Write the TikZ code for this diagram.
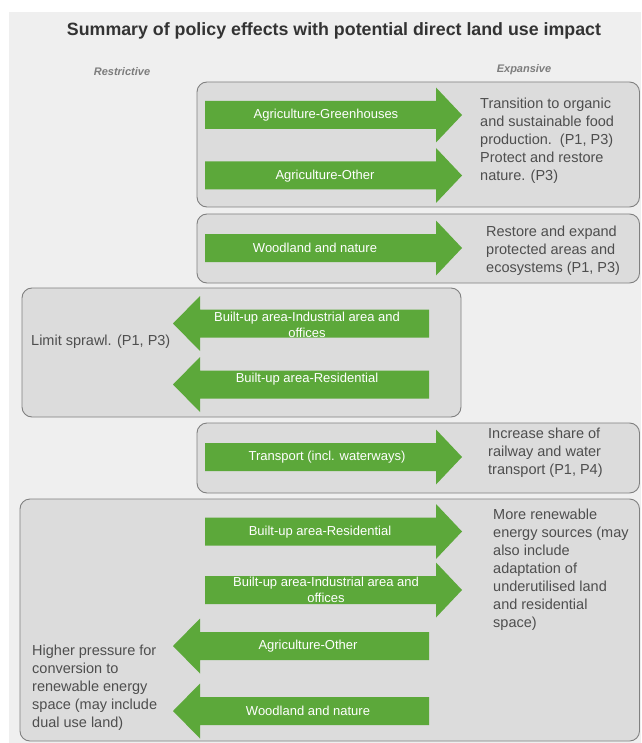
\documentclass[tikz,border=0pt]{standalone}
\usepackage{fontspec}
\setmainfont{Liberation Sans}
\definecolor{bg}{RGB}{239,239,239}
\definecolor{boxfill}{RGB}{220,220,220}
\definecolor{boxline}{RGB}{128,128,128}
\definecolor{grn}{RGB}{92,168,58}
\definecolor{txt}{RGB}{78,78,78}
\definecolor{hdr}{RGB}{125,125,125}
\newcommand\myrarrow[1]{\fill[grn] (205,{#1-14}) -- (436,{#1-14}) -- (436,{#1-27.5}) -- (462,#1) -- (436,{#1+27.5}) -- (436,{#1+14}) -- (205,{#1+14}) -- cycle;}
\newcommand\mylarrow[1]{\fill[grn] (429,{#1-14}) -- (200,{#1-14}) -- (200,{#1-27.5}) -- (173,#1) -- (200,{#1+27.5}) -- (200,{#1+14}) -- (429,{#1+14}) -- cycle;}
\begin{document}
\begin{tikzpicture}[x=1pt,y=-1pt,
  panel/.style={fill=boxfill,draw=boxline,line width=0.9pt,rounded corners=10pt},
  lbl/.style={text=white,font=\fontsize{13}{15.5}\selectfont,align=center,inner sep=0pt},
  side/.style={text=txt,font=\fontsize{14.5}{18}\selectfont,align=left,anchor=west,inner sep=0pt},
  hd/.style={text=hdr,font=\fontsize{11}{13}\selectfont\bfseries\itshape,inner sep=0pt}]
\useasboundingbox (0,0) rectangle (641,743);
\fill[white] (0,0) rectangle (641,743);
\fill[bg] (9,12) rectangle (641,743);
\node[text=black!80,font=\fontsize{17.8}{20}\selectfont\bfseries,inner sep=0pt] (title) at (334,31) {Summary of policy effects with potential direct land use impact};
\node[hd] (restr) at (122,72) {Restrictive};
\node[hd] (expan) at (524,70) {Expansive};
% panels
\draw[panel] (197,82) rectangle (639.5,207);
\draw[panel] (197,214) rectangle (639.5,283);
\draw[panel] (22,288) rectangle (461,417);
\draw[panel] (197,423) rectangle (639.5,493);
\draw[panel] (20,499) rectangle (639.5,741);
% panel 1
\myrarrow{115}
\node[lbl] (agrgh) at (326,115) {Agriculture-Greenhouses};
\myrarrow{175.5}
\node[lbl] (agroth) at (325,176) {Agriculture-Other};
\node[side] (t1) at (480,141) {Transition to organic\\and sustainable food\\production.\ \ (P1, P3)\\Protect and restore\\nature. (P3)};
% panel 2
\myrarrow{248}
\node[lbl] (wood1) at (315,248) {Woodland and nature};
\node[side] (t2) at (486,251) {Restore and expand\\protected areas and\\ecosystems (P1, P3)};
% panel 3
\mylarrow{323.5}
\node[lbl] (ind1) at (307,325) {Built-up area-Industrial area and\\offices};
\mylarrow{384.5}
\node[lbl] (res1) at (307,379) {Built-up area-Residential};
\node[side] (t3) at (31,342) {Limit sprawl. (P1, P3)};
% panel 4
\myrarrow{457}
\node[lbl] (trans) at (327,457) {Transport (incl. waterways)};
\node[side] (t4) at (488,453) {Increase share of\\railway and water\\transport (P1, P4)};
% panel 5
\myrarrow{531.5}
\node[lbl] (res2) at (320,532) {Built-up area-Residential};
\myrarrow{590}
\node[lbl] (ind2) at (326,590) {Built-up area-Industrial area and\\offices};
\mylarrow{646}
\node[lbl] (agroth2) at (308,646) {Agriculture-Other};
\mylarrow{711}
\node[lbl] (wood2) at (308,711) {Woodland and nature};
\node[side] (t5) at (493,570) {More renewable\\energy sources (may\\also include\\adaptation of\\underutilised land\\and residential\\space)};
\node[side] (t6) at (32,688) {Higher pressure for\\conversion to\\renewable energy\\space (may include\\dual use land)};
\end{tikzpicture}
\end{document}
